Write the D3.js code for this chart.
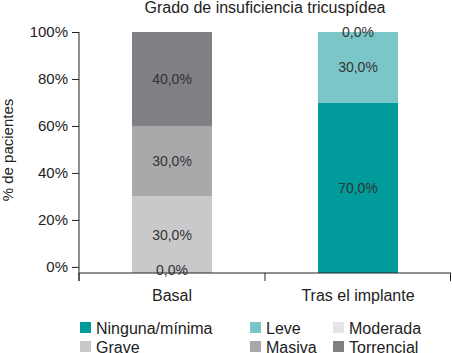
<!DOCTYPE html>
<html>
<head>
<meta charset="utf-8">
<script src="https://cdn.jsdelivr.net/npm/d3@7"></script>
<style>
  body { margin: 0; background: #fff; }
  svg { font-family: "Liberation Sans", Arial, Helvetica, sans-serif; }
</style>
</head>
<body>
<svg id="chart" width="452" height="353"></svg>
<script>
const groups = ['Basal', 'Tras el implante']
const severities = ['Ninguna/mínima', 'Leve', 'Moderada', 'Grave', 'Masiva', 'Torrencial']
// % of patients, same order as severities
const basal = [0, 0, 0, 30, 30, 40]
const trasImplante = [70, 30, 0, 0, 0, 0]
const yTicks = [0, 20, 40, 60, 80, 100]
const colors = ['#009b9a', '#7bc6c8', '#e5e5e7', '#c9c9cb', '#a9a9ac', '#807f84']

const svg = d3.select('#chart')
const margin = {left: 79, right: 1, top: 32, bottom: 80}
const width = 452, height = 353
const baseY = height - margin.bottom // x axis line

const x = d3.scaleBand().domain(groups).range([margin.left, width - margin.right])
// the axis starts a little under 0, bars sit on the axis line
const y = d3.scaleLinear().domain([-2.6, 100]).range([baseY, margin.top])

const rows = groups.map((g, i) => {
  const vals = i === 0 ? basal : trasImplante
  const r = {group: g}
  severities.forEach((s, j) => { r[s] = vals[j] })
  return r
})
const stacked = d3.stack().keys(severities)(rows)
const fmt = v => d3.format('.1f')(v).replace('.', ',') + '%'
const barW = 80

// title
svg.append('text')
  .attr('x', 265).attr('y', 13)
  .attr('text-anchor', 'middle')
  .attr('font-size', 16).attr('fill', '#222')
  .text('Grado de insuficiencia tricuspídea')

// bars
const segY0 = d => d[0] === 0 ? baseY : y(d[0])
stacked.forEach((layer, k) => {
  svg.append('g').selectAll('rect')
    .data(layer)
    .join('rect')
    .attr('x', d => x(d.data.group) + x.bandwidth() / 2 - barW / 2)
    .attr('width', barW)
    .attr('y', d => y(d[1]))
    .attr('height', d => Math.max(0, segY0(d) - y(d[1])))
    .attr('fill', colors[k])
})

// value labels, zero segments share a spot so only keep one of them
const labels = []
const seen = new Set()
stacked.forEach(layer => layer.forEach(d => {
  const ly = (segY0(d) + y(d[1])) / 2
  const key = d.data.group + '|' + Math.round(ly)
  if (seen.has(key)) return
  seen.add(key)
  labels.push({group: d.data.group, y: ly, value: d[1] - d[0]})
}))
svg.append('g').selectAll('text')
  .data(labels)
  .join('text')
  .attr('x', d => x(d.group) + x.bandwidth() / 2)
  .attr('y', d => d.y)
  .attr('dy', '0.35em')
  .attr('text-anchor', 'middle')
  .attr('font-size', 14).attr('fill', '#333')
  .text(d => fmt(d.value))

// y axis
const yAxis = svg.append('g')
  .attr('transform', `translate(${margin.left},0)`)
  .call(d3.axisLeft(y).tickValues(yTicks).tickSize(7).tickPadding(4).tickFormat(d => d + '%'))
yAxis.select('.domain').attr('d', `M0,${margin.top}V${baseY + 8}`)
yAxis.selectAll('text').attr('font-size', 15).attr('fill', '#222').attr('font-family', null)
yAxis.selectAll('line, path').attr('stroke', '#222')

svg.append('text')
  .attr('transform', 'translate(13,150) rotate(-90)')
  .attr('text-anchor', 'middle')
  .attr('font-size', 15).attr('fill', '#222')
  .text('% de pacientes')

// x axis
const xg = svg.append('g')
xg.append('line')
  .attr('x1', margin.left).attr('x2', width - margin.right)
  .attr('y1', baseY).attr('y2', baseY)
  .attr('stroke', '#222')
const bounds = groups.map(g => x(g) + x.bandwidth()).concat([x(groups[0])])
xg.selectAll('line.sep')
  .data(bounds)
  .join('line')
  .attr('class', 'sep')
  .attr('x1', d => Math.min(d, width - 1.5)).attr('x2', d => Math.min(d, width - 1.5))
  .attr('y1', baseY).attr('y2', baseY + 8)
  .attr('stroke', '#222')
xg.selectAll('text')
  .data(groups)
  .join('text')
  .attr('x', d => x(d) + x.bandwidth() / 2)
  .attr('y', baseY + 22)
  .attr('dy', '0.35em')
  .attr('text-anchor', 'middle')
  .attr('font-size', 16).attr('fill', '#222')
  .text(d => d)

// legend (second row sits on the bottom edge, as in the source)
const legCols = [80, 250, 333]
const legRows = [328, 347]
const legend = svg.append('g')
  .selectAll('g')
  .data(severities)
  .join('g')
  .attr('transform', (d, i) => `translate(${legCols[i % 3]},${legRows[Math.floor(i / 3)]})`)
legend.append('rect')
  .attr('x', 0).attr('y', -6)
  .attr('width', 11).attr('height', 11)
  .attr('fill', (d, i) => colors[i])
legend.append('text')
  .attr('x', 16).attr('dy', '0.35em')
  .attr('font-size', 16).attr('fill', '#222')
  .text(d => d)
</script>
</body>
</html>
